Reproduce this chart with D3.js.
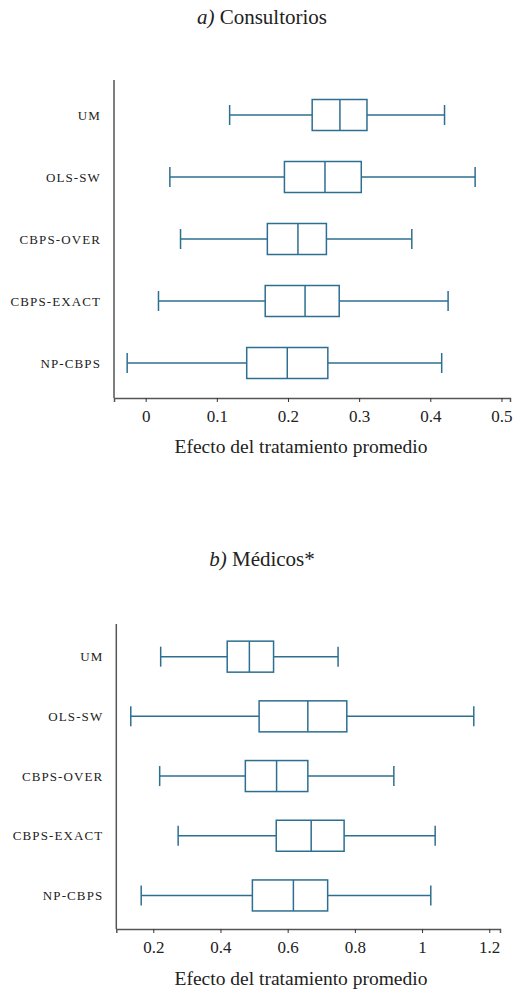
<!DOCTYPE html>
<html><head><meta charset="utf-8">
<script src="https://cdn.jsdelivr.net/npm/d3@7"></script>
<style>body{margin:0;background:#fff}svg{display:block}text{font-family:"Liberation Serif","DejaVu Serif",serif;fill:#222}</style>
</head><body>
<script>
const categories = ["UM","OLS-SW","CBPS-OVER","CBPS-EXACT","NP-CBPS"];
// panel a) Consultorios: [min, q1, median, q3, max]
const consultLow  = [0.118, 0.034, 0.049, 0.018, -0.026];
const consultQ1   = [0.234, 0.195, 0.171, 0.168, 0.142];
const consultMed  = [0.273, 0.252, 0.214, 0.224, 0.199];
const consultQ3   = [0.311, 0.303, 0.254, 0.272, 0.256];
const consultHigh = [0.420, 0.463, 0.374, 0.425, 0.416];
const consultTicks = [0, 0.1, 0.2, 0.3, 0.4, 0.5];
// panel b) Médicos*
const medLow  = [0.222, 0.133, 0.219, 0.274, 0.164];
const medQ1   = [0.420, 0.515, 0.474, 0.566, 0.495];
const medMed  = [0.486, 0.660, 0.567, 0.670, 0.617];
const medQ3   = [0.558, 0.776, 0.660, 0.768, 0.719];
const medHigh = [0.750, 1.154, 0.916, 1.039, 1.026];
const medTicks = [0.2, 0.4, 0.6, 0.8, 1, 1.2];
const axisTitle = "Efecto del tratamiento promedio";

const svg = d3.select("body").append("svg").attr("width",520).attr("height",999);
const boxColor = "#2d6f90";

function panel(cfg){
  const g = svg.append("g");
  const x = d3.scaleLinear().domain(cfg.domain).range([cfg.left, cfg.right]);
  const y = d3.scaleBand().domain(categories).range([cfg.top, cfg.bottom]);
  const t = g.append("text").attr("x",262).attr("y",cfg.titleY).attr("text-anchor","middle").style("font-size","21px");
  t.append("tspan").style("font-style","italic").text(cfg.titleLetter);
  t.append("tspan").text(" " + cfg.titleText);
  g.append("line").attr("x1",cfg.left).attr("x2",cfg.left).attr("y1",cfg.axisTop).attr("y2",cfg.axisY)
    .attr("stroke","#555").attr("stroke-width",1.5);
  const ax = g.append("g").attr("transform",`translate(0,${cfg.axisY})`)
    .call(d3.axisBottom(x).tickValues(cfg.ticks).tickSize(4).tickPadding(8).tickFormat(d3.format("~g")));
  ax.select(".domain").attr("stroke","#555").attr("stroke-width",1.5);
  ax.selectAll(".tick line").attr("stroke","#333");
  ax.selectAll(".tick text").style("font-size","17px").attr("fill","#333");
  g.append("text").attr("x",301).attr("y",cfg.axisTitleY).attr("text-anchor","middle").style("font-size","19.5px").text(axisTitle);
  g.selectAll(".cat").data(categories).join("text")
    .attr("x",cfg.left-13).attr("y",d=>y(d)+y.bandwidth()/2).attr("dy","0.35em")
    .attr("text-anchor","end").style("font-size","13px").style("letter-spacing","1.1px").text(d=>d);
  const bh = 31, ch = 20;
  categories.forEach((c,i)=>{
    const cy = y(c)+y.bandwidth()/2;
    const b = g.append("g").attr("stroke",boxColor).attr("stroke-width",1.5).attr("fill","none");
    b.append("line").attr("x1",x(cfg.low[i])).attr("x2",x(cfg.q1[i])).attr("y1",cy).attr("y2",cy);
    b.append("line").attr("x1",x(cfg.q3[i])).attr("x2",x(cfg.high[i])).attr("y1",cy).attr("y2",cy);
    b.append("line").attr("x1",x(cfg.low[i])).attr("x2",x(cfg.low[i])).attr("y1",cy-ch/2).attr("y2",cy+ch/2);
    b.append("line").attr("x1",x(cfg.high[i])).attr("x2",x(cfg.high[i])).attr("y1",cy-ch/2).attr("y2",cy+ch/2);
    b.append("rect").attr("x",x(cfg.q1[i])).attr("width",x(cfg.q3[i])-x(cfg.q1[i])).attr("y",cy-bh/2).attr("height",bh).attr("fill","#fff");
    b.append("line").attr("x1",x(cfg.med[i])).attr("x2",x(cfg.med[i])).attr("y1",cy-bh/2).attr("y2",cy+bh/2);
  });
}

panel({domain:[-0.0445,0.512], left:114, right:510, top:84, bottom:394, axisTop:80, axisY:398,
  ticks:consultTicks, titleY:24, titleLetter:"a)", titleText:"Consultorios", axisTitleY:453,
  low:consultLow,q1:consultQ1,med:consultMed,q3:consultQ3,high:consultHigh});
panel({domain:[0.0899,1.232], left:116.3, right:500, top:626.8, bottom:925.3, axisTop:624, axisY:929,
  ticks:medTicks, titleY:566, titleLetter:"b)", titleText:"Médicos*", axisTitleY:985,
  low:medLow,q1:medQ1,med:medMed,q3:medQ3,high:medHigh});
</script>
</body></html>
